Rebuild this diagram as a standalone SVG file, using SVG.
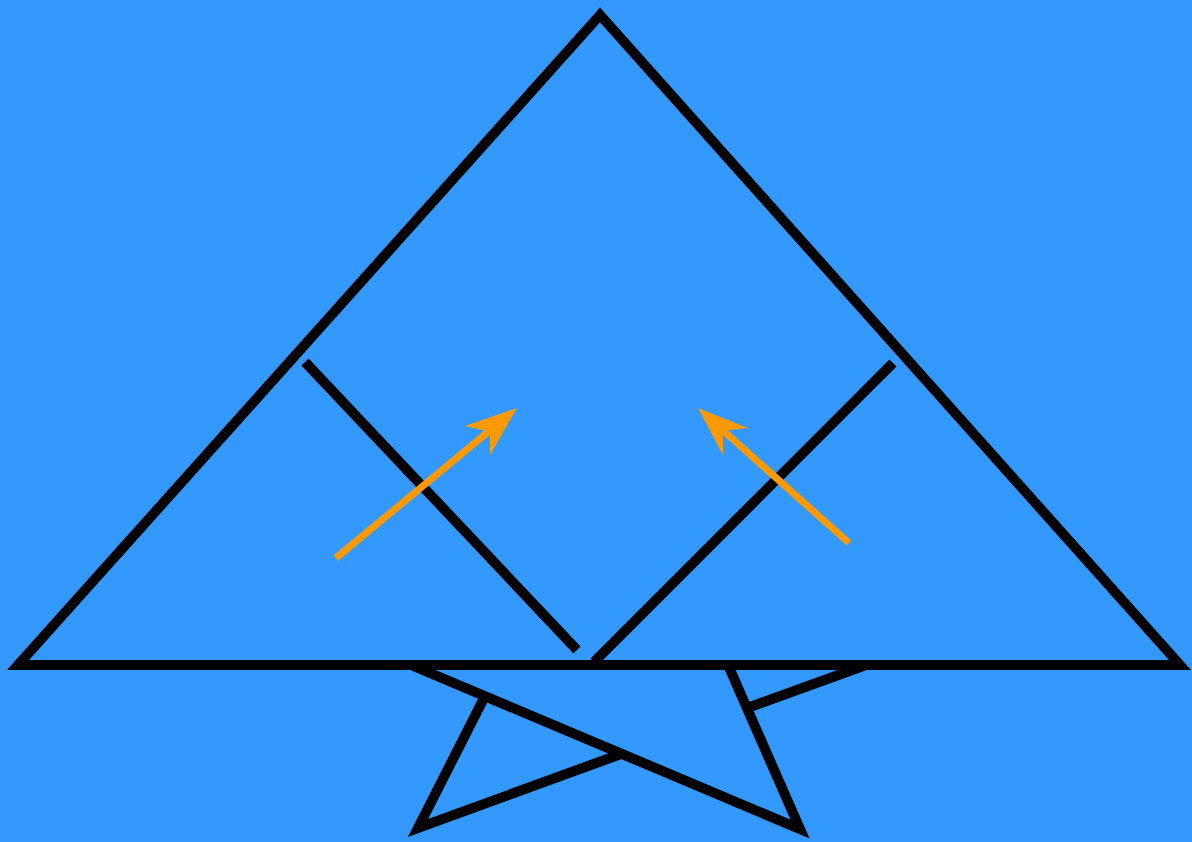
<svg xmlns="http://www.w3.org/2000/svg" width="1192" height="842" viewBox="0 0 1192 842">
  <defs>
    <style>
      .k { fill: none; stroke: #000; stroke-width: 10; stroke-linejoin: miter; stroke-miterlimit: 10; }
      .o { fill: none; stroke: #FF9900; stroke-width: 7; }
      .oh { fill: #FF9900; stroke: none; }
    </style>
  </defs>
  <rect width="1192" height="842" fill="#3399FF"/>
  <g id="bottom">
    <polyline class="k" points="411,665 800,829 728,665"/>
    <polyline class="k" points="484,698 418,828 621,754"/>
    <line class="k" x1="747" y1="708" x2="866" y2="665"/>
  </g>
  <g id="triangle">
    <polygon class="k" points="600,15 18,665 1180,665"/>
  </g>
  <g id="inner">
    <line class="k" x1="305" y1="362" x2="577" y2="650"/>
    <line class="k" x1="893" y1="363" x2="594" y2="662"/>
  </g>
  <g id="arrows">
    <line class="o" x1="336" y1="558" x2="494" y2="427"/>
    <polygon class="oh" points="517,408 465,426 490,432 490,455"/>
    <line class="o" x1="849" y1="543" x2="718" y2="426"/>
    <polygon class="oh" points="698,408 748,428 723,431 723,455"/>
  </g>
</svg>
